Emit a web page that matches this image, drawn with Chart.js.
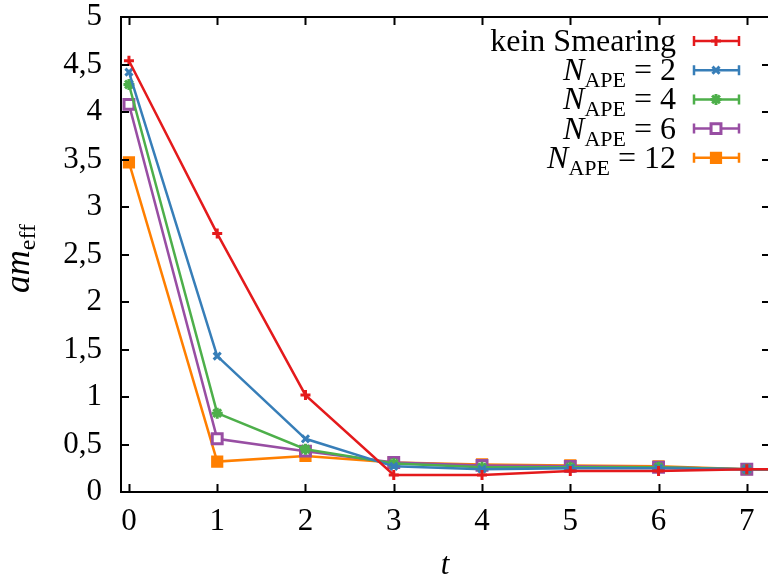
<!DOCTYPE html>
<html lang="de">
<head>
   <meta charset="UTF-8">
   <title>am_eff</title>
   <style>
      html, body { margin: 0; padding: 0; background: #fff; }
      .wrap { width: 768px; height: 581px; }
   </style>
   <script src="https://cdn.jsdelivr.net/npm/chart.js@4.4.1/dist/chart.umd.min.js"></script>
</head>
<body>
   <div class="wrap"><canvas id="effMass" width="768" height="581"></canvas></div>

   <script>
      // Daten
      const tValues = [0, 1, 2, 3, 4, 5, 6, 7, 8];
      const keinSmearing = [4.54, 2.72, 1.02, 0.18, 0.18, 0.22, 0.22, 0.24, 0.24];
      const nApe2  = [4.42, 1.43, 0.56, 0.27, 0.24, 0.25, 0.25, 0.24, 0.24];
      const nApe4  = [4.29, 0.83, 0.45, 0.30, 0.26, 0.26, 0.26, 0.24, 0.24];
      const nApe6  = [4.08, 0.56, 0.43, 0.31, 0.28, 0.27, 0.26, 0.24, 0.24];
      const nApe12 = [3.47, 0.32, 0.38, 0.31, 0.29, 0.28, 0.27, 0.24, 0.24];

      const seriesNames = ['kein Smearing', '2', '4', '6', '12'];
      const xTicks = [0, 1, 2, 3, 4, 5, 6, 7];
      const yTicks = [0, 0.5, 1, 1.5, 2, 2.5, 3, 3.5, 4, 4.5, 5];

      const FONT = '"Liberation Serif", "DejaVu Serif", serif';

      let toPoints = (arr) => arr.map((v, i) => ({ x: tValues[i], y: v }));

      let makeSet = (name, values, color, style, radius, bg) => ({
         label: name,
         data: toPoints(values),
         borderColor: color,
         backgroundColor: bg || color,
         borderWidth: 2.5,
         pointStyle: style,
         pointRadius: radius,
         pointBorderWidth: 3,
         pointBorderColor: color,
         pointBackgroundColor: bg || color,
         tension: 0,
         clip: 0
      });

      const datasets = [
         makeSet(seriesNames[0], keinSmearing, '#e41a1c', 'cross', 5),
         makeSet(seriesNames[1], nApe2, '#377eb8', 'crossRot', 5),
         makeSet(seriesNames[2], nApe4, '#4daf4a', 'star', 5.5),
         makeSet(seriesNames[3], nApe6, '#984ea3', 'rect', 7, '#ffffff'),
         makeSet(seriesNames[4], nApe12, '#ff7f00', 'rect', 6.5)
      ];

      // Text mit Index zeichnen, rechtsbuendig
      function drawParts(ctx, parts, rightX, y) {
         let total = 0;
         parts.forEach(p => { ctx.font = p.font; total += ctx.measureText(p.t).width; });
         let x = rightX - total;
         ctx.textAlign = 'left';
         ctx.textBaseline = 'alphabetic';
         parts.forEach(p => {
            ctx.font = p.font;
            ctx.fillText(p.t, x, y + (p.dy || 0));
            x += ctx.measureText(p.t).width;
         });
      }

      const gnuplotFrame = {
         id: 'gnuplotFrame',
         afterDraw(chart) {
            const ctx = chart.ctx;
            const area = chart.chartArea;
            const xs = chart.scales.x, ys = chart.scales.y;
            ctx.save();
            ctx.strokeStyle = '#000';
            ctx.lineWidth = 2;
            ctx.beginPath();
            // obere Kante
            ctx.moveTo(area.left, area.top);
            ctx.lineTo(area.right, area.top);
            // Ticks nach innen
            xTicks.forEach(v => {
               const px = Math.round(xs.getPixelForValue(v)) + 0.5;
               ctx.moveTo(px, area.bottom); ctx.lineTo(px, area.bottom - 8);
               ctx.moveTo(px, area.top); ctx.lineTo(px, area.top + 8);
            });
            yTicks.forEach(v => {
               const py = Math.round(ys.getPixelForValue(v));
               ctx.moveTo(area.left, py); ctx.lineTo(area.left + 8, py);
               ctx.moveTo(area.right, py); ctx.lineTo(area.right - 6, py);
            });
            ctx.stroke();

            // Achsentitel
            ctx.fillStyle = '#000';
            ctx.textAlign = 'center';
            ctx.font = 'italic 31px ' + FONT;
            ctx.fillText('t', 445, 574);
            ctx.save();
            ctx.translate(29, 260);
            ctx.rotate(-Math.PI / 2);
            drawParts(ctx, [
               { t: 'am', font: 'italic 35px ' + FONT },
               { t: 'eff', font: '24px ' + FONT, dy: 6 }
            ], 36, 0);
            ctx.restore();

            // Legende
            chart.data.datasets.forEach((ds, i) => {
               const y = 41 + i * 29.2;
               ctx.fillStyle = '#000';
               if (i === 0) {
                  drawParts(ctx, [{ t: ds.label, font: '32px ' + FONT }], 676, y + 10);
               } else {
                  drawParts(ctx, [
                     { t: 'N', font: 'italic 32px ' + FONT },
                     { t: 'APE', font: '22px ' + FONT, dy: 7 },
                     { t: ' = ' + ds.label, font: '32px ' + FONT }
                  ], 676, y + 10);
               }
               ctx.strokeStyle = ds.borderColor;
               ctx.lineWidth = 2.5;
               ctx.beginPath();
               ctx.moveTo(694, y); ctx.lineTo(739, y);
               ctx.moveTo(694, y - 5); ctx.lineTo(694, y + 5);
               ctx.moveTo(739, y - 5); ctx.lineTo(739, y + 5);
               ctx.stroke();
               ctx.fillStyle = ds.pointBackgroundColor;
               ctx.lineWidth = 3;
               Chart.helpers.drawPoint(ctx, {
                  pointStyle: ds.pointStyle,
                  radius: ds.pointRadius,
                  borderWidth: 3,
                  rotation: 0
               }, 716, y);
            });
            ctx.restore();
         }
      };

      window.onload = function () {
         const context = document.getElementById('effMass').getContext('2d');
         new Chart(context, {
            type: 'line',
            data: { datasets: datasets },
            plugins: [gnuplotFrame],
            options: {
               responsive: false,
               animation: false,
               layout: { autoPadding: false, padding: { top: 17, right: 0, left: 0, bottom: 0 } },
               plugins: {
                  legend: { display: false },
                  tooltip: { enabled: false }
               },
               scales: {
                  x: {
                     type: 'linear',
                     min: -0.09,
                     max: 7.24,
                     afterBuildTicks: (s) => { s.ticks = xTicks.map(v => ({ value: v })); },
                     afterFit: (s) => { s.height = 89; s.paddingLeft = 0; s.paddingRight = 0; },
                     grid: { display: false, drawTicks: false },
                     border: { display: true, color: '#000', width: 2 },
                     ticks: {
                        color: '#000',
                        font: { family: FONT, size: 31 },
                        padding: 11,
                        maxRotation: 0,
                        callback: (v) => String(v)
                     }
                  },
                  y: {
                     min: 0,
                     max: 5,
                     afterBuildTicks: (s) => { s.ticks = yTicks.map(v => ({ value: v })); },
                     afterFit: (s) => { s.width = 121; s.paddingTop = 0; s.paddingBottom = 0; },
                     grid: { display: false, drawTicks: false },
                     border: { display: true, color: '#000', width: 2 },
                     ticks: {
                        color: '#000',
                        font: { family: FONT, size: 31 },
                        padding: 19,
                        callback: (v) => String(v).replace('.', ',')
                     }
                  }
               }
            }
         });
      };
   </script>
</body>
</html>
